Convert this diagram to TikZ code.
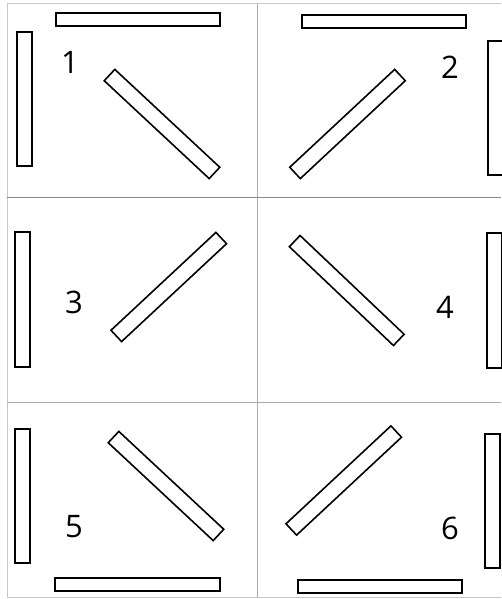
\documentclass[tikz,border=0pt]{standalone}
\usepackage{fontspec}
\setsansfont{Open Sans}
\definecolor{ink}{HTML}{000000}
\definecolor{rulegray}{HTML}{ACACAC}
\definecolor{framegray}{HTML}{C8C8C8}

\begin{document}
\begin{tikzpicture}[
  x=1pt,
  y=-1pt,
  font=\sffamily,
  bar/.style={draw=ink,line width=1.6pt,fill=white,inner sep=0pt},
  hbar/.style={bar,minimum width=164.5pt,minimum height=13.5pt},
  vbar/.style={bar,minimum width=15.5pt,minimum height=134.5pt},
  slant/.style={bar,minimum width=143.5pt,minimum height=15.5pt},
  num/.style={font=\sffamily\fontsize{31}{31}\selectfont,text=ink,inner sep=0pt}
]
\useasboundingbox (0,0) rectangle (501,599);

% grid
\draw[framegray,line width=1pt] (501,4) -- (7,4) -- (7,597) -- (501,597);
\draw[rulegray,line width=1pt] (257,4) -- (257,597);
\draw[rulegray!80!black,line width=1pt] (7,197) -- (501,197);
\draw[rulegray,line width=1pt] (7,402) -- (501,402);

% cell 1
\node[hbar] (top1) at (138,19.5) {};
\node[vbar] (left1) at (24.5,99) {};
\node[slant,rotate=-43] (diag1) at (162,124) {};
\node[num] (num1) at (70,62) {1};

% cell 2
\node[hbar] (top2) at (384,21.5) {};
\node[vbar] (right2) at (495.5,108) {};
\node[slant,rotate=43] (diag2) at (347.5,124) {};
\node[num] (num2) at (450,67) {2};

% cell 3
\node[vbar] (left3) at (22.5,299.5) {};
\node[slant,rotate=43] (diag3) at (168.75,287) {};
\node[num] (num3) at (74,302) {3};

% cell 4
\node[slant,rotate=-43.5] (diag4) at (346.75,290.5) {};
\node[vbar] (right4) at (494.5,300.5) {};
\node[num] (num4) at (445,307) {4};

% cell 5
\node[vbar] (left5) at (22.5,496) {};
\node[slant,rotate=-43] (diag5) at (166,486) {};
\node[hbar] (bottom5) at (137.5,584.5) {};
\node[num] (num5) at (74,527) {5};

% cell 6
\node[slant,rotate=43] (diag6) at (343.75,480.5) {};
\node[vbar] (right6) at (492.5,501) {};
\node[hbar] (bottom6) at (380,586.5) {};
\node[num] (num6) at (450,528) {6};
\end{tikzpicture}
\end{document}
